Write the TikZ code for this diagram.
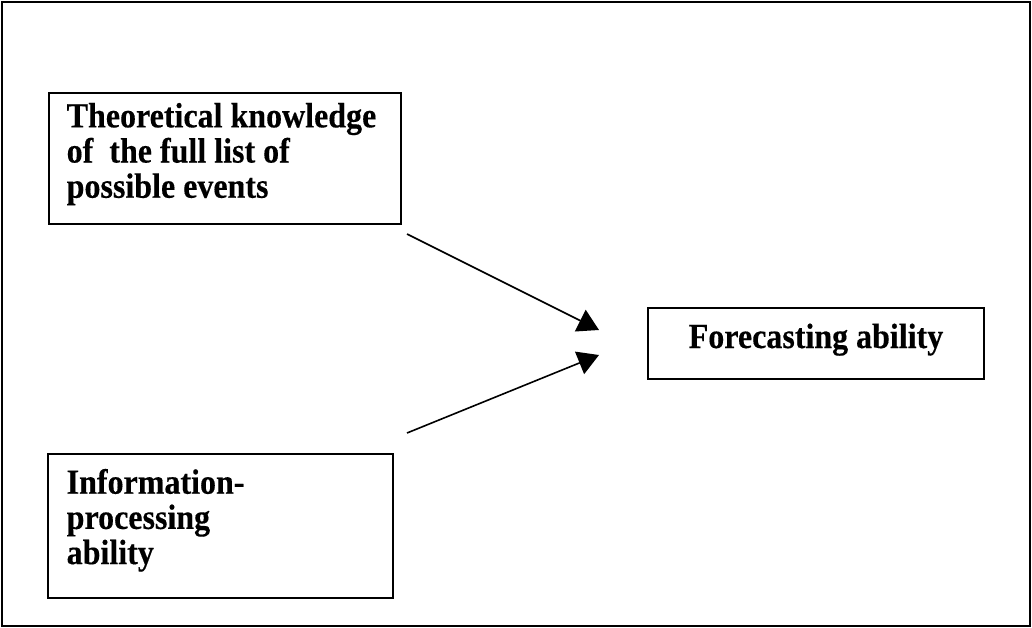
\documentclass[tikz,border=0pt]{standalone}
\usepackage{fontspec}
\setmainfont{Liberation Serif}[BoldFeatures={FakeBold=0.35}]
\usetikzlibrary{arrows.meta}
\tikzset{
  boxshape/.style={draw=black, line width=1.7pt, rectangle, inner sep=0pt, anchor=north west},
  boxtext/.style={inner sep=0pt, align=left, anchor=north west,
    font=\bfseries\fontsize{32}{32}\selectfont, yscale=1.1, transform shape},
  influence/.style={line width=1.6pt, -{Triangle[length=21pt,width=24pt]}}
}
\begin{document}
\begin{tikzpicture}[x=1pt,y=-1pt]
  \useasboundingbox (0,0) rectangle (1032,628);
  % surrounding frame
  \draw[line width=2pt] (1.5,2) rectangle (1029.5,626);

  % left boxes
  \node[boxshape, minimum width=352pt, minimum height=131pt] (knowbox) at (48,92) {};
  \node[boxtext] (know) at (66.5,102.7) {Theoretical knowledge\\of~~the full list of\\possible events};

  \node[boxshape, minimum width=345pt, minimum height=144pt] (infobox) at (47,453) {};
  \node[boxtext] (info) at (66.5,468.7) {Information-\\processing\\ability};

  % right box
  \node[boxshape, minimum width=336pt, minimum height=71pt] (forebox) at (647,307) {};
  \node[boxtext, anchor=base] (fore) at (816,348) {Forecasting ability};

  % arrows
  \coordinate (a1s) at (407,234);
  \coordinate (a1e) at (599,330);
  \coordinate (a2s) at (407,433);
  \coordinate (a2e) at (599,355);
  \draw[influence] (a1s) -- (a1e);
  \draw[influence] (a2s) -- (a2e);
\end{tikzpicture}
\end{document}
